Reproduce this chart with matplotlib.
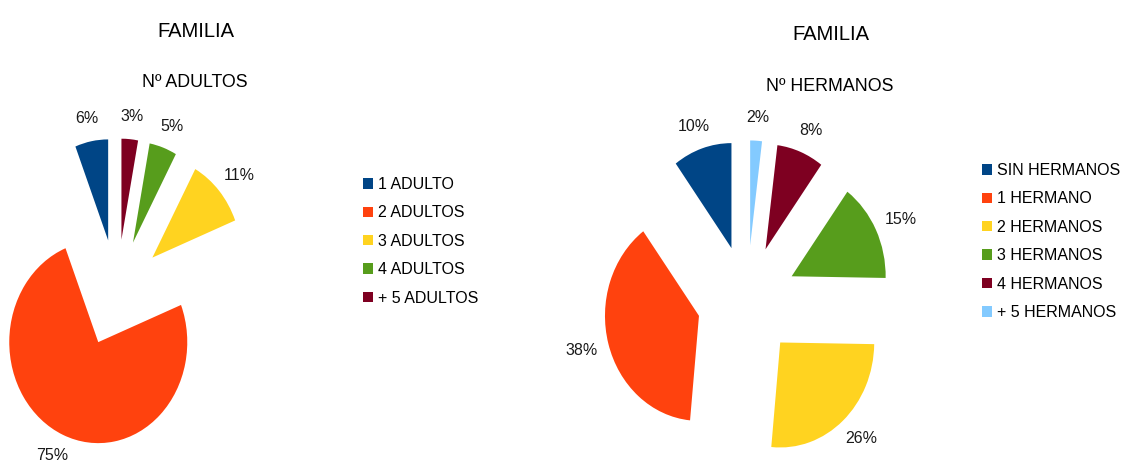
import numpy as np
import matplotlib.pyplot as plt
from matplotlib.patches import Patch

plt.rcParams['font.family'] = ['Liberation Sans', 'DejaVu Sans']

# Datos
adultos_labels = ["1 ADULTO", "2 ADULTOS", "3 ADULTOS", "4 ADULTOS", "+ 5 ADULTOS"]
adultos_vals = [6, 75, 11, 5, 3]
adultos_colors = ["#004586", "#ff420e", "#ffd320", "#579d1c", "#7e0021"]

hermanos_labels = ["SIN HERMANOS", "1 HERMANO", "2 HERMANOS", "3 HERMANOS",
                   "4 HERMANOS", "+ 5 HERMANOS"]
hermanos_vals = [10, 38, 26, 15, 8, 2]
hermanos_colors = ["#004586", "#ff420e", "#ffd320", "#579d1c", "#7e0021", "#83caff"]

W, H = 1128, 462
fig = plt.figure(figsize=(W / 100, H / 100), dpi=100)


def pie_axes(cx, cy, rx, ry, L=2.2):
    # axes placed in pixels so that radius 1 -> rx, ry pixels
    ax = fig.add_axes([(cx - L * rx) / W, (cy - L * ry) / H,
                       2 * L * rx / W, 2 * L * ry / H])
    return ax, L


def draw_pie(ax, L, vals, colors, rx, ry):
    wedges, _, autotexts = ax.pie(
        vals, colors=colors, startangle=90, counterclock=True,
        explode=[0.53] * len(vals), autopct='%1.0f%%', pctdistance=1.2,
        textprops=dict(fontsize=11.5, color='#1a1a1a'),
        wedgeprops=dict(linewidth=0))
    ax.set_aspect('auto')
    ax.set_xlim(-L, L)
    ax.set_ylim(-L, L)
    ax.axis('off')
    # labels just outside the arc, pushed out by half their size
    tw, th = 26, 13
    for w, t in zip(wedges, autotexts):
        a = np.deg2rad((w.theta1 + w.theta2) / 2)
        cx, cy = w.center
        x = cx + 1.16 * np.cos(a) + (tw / 2) * np.cos(a) / rx
        y = cy + 1.16 * np.sin(a) + (th / 2) * np.sin(a) / ry
        t.set_position((x, y))
        t.set_clip_on(False)


ax1, L1 = pie_axes(117, H - 293, 89, 101)
draw_pie(ax1, L1, adultos_vals, adultos_colors, 89, 101)

ax2, L2 = pie_axes(747, H - 301, 94, 105)
draw_pie(ax2, L2, hermanos_vals, hermanos_colors, 94, 105)

# Titulos
fig.text(196 / W, 1 - 37 / H, "FAMILIA", ha='center', va='baseline', fontsize=14.5)
fig.text(195 / W, 1 - 87 / H, "Nº ADULTOS", ha='center', va='baseline', fontsize=12.75)
fig.text(831 / W, 1 - 40 / H, "FAMILIA", ha='center', va='baseline', fontsize=14.5)
fig.text(830 / W, 1 - 91 / H, "Nº HERMANOS", ha='center', va='baseline', fontsize=12.75)

# Leyendas
h1 = [Patch(facecolor=c, edgecolor='none') for c in adultos_colors]
fig.legend(h1, adultos_labels, loc='upper left', bbox_to_anchor=(363 / W, 1 - 177 / H),
           frameon=False, fontsize=11.5, borderaxespad=0, borderpad=0,
           handlelength=0.62, handleheight=0.62, handletextpad=0.35, labelspacing=0.84)

h2 = [Patch(facecolor=c, edgecolor='none') for c in hermanos_colors]
fig.legend(h2, hermanos_labels, loc='upper left', bbox_to_anchor=(982 / W, 1 - 163 / H),
           frameon=False, fontsize=11.5, borderaxespad=0, borderpad=0,
           handlelength=0.62, handleheight=0.62, handletextpad=0.35, labelspacing=0.84)

fig.savefig("out.png", dpi=100)
